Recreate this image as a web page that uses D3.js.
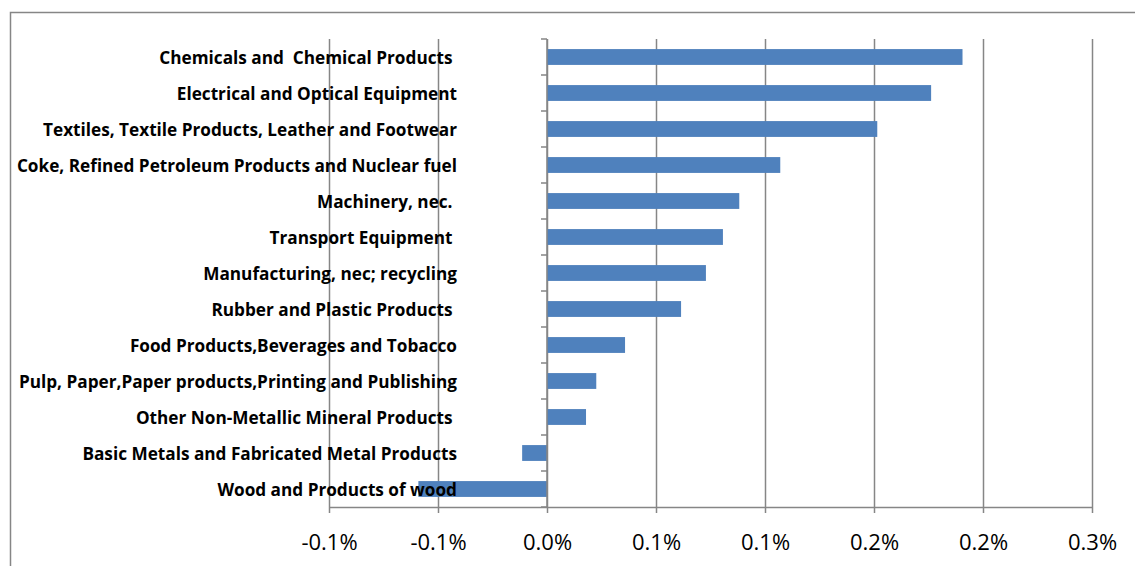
<!DOCTYPE html>
<html>
<head>
<meta charset="utf-8">
<script src="https://cdn.jsdelivr.net/npm/d3@7"></script>
<style>
  html, body { margin: 0; padding: 0; background: #fff; }
  svg { display: block; }
  .cat { font-family: "Open Sans", Lato, sans-serif; font-weight: bold; font-size: 17.2px; fill: #000; white-space: pre; }
  .tick-label { font-family: "Open Sans", Lato, sans-serif; font-size: 22px; fill: #000; }
</style>
</head>
<body>
<svg id="chart" width="1135" height="566"></svg>
<script>
// Industries, top to bottom
const categories = [
  "Chemicals and  Chemical Products ",
  "Electrical and Optical Equipment",
  "Textiles, Textile Products, Leather and Footwear",
  "Coke, Refined Petroleum Products and Nuclear fuel",
  "Machinery, nec. ",
  "Transport Equipment ",
  "Manufacturing, nec; recycling",
  "Rubber and Plastic Products ",
  "Food Products,Beverages and Tobacco",
  "Pulp, Paper,Paper products,Printing and Publishing",
  "Other Non-Metallic Mineral Products ",
  "Basic Metals and Fabricated Metal Products",
  "Wood and Products of wood"
];

// Change, in percent
const values = [0.1906, 0.1762, 0.1515, 0.1070, 0.0882, 0.0807, 0.0729, 0.0615, 0.0358, 0.0226, 0.0179, -0.0114, -0.0590];

// Axis ticks (percent) and their printed labels
const tickValues = [-0.10, -0.05, 0.00, 0.05, 0.10, 0.15, 0.20, 0.25];
const tickLabels = ["-0.1%", "-0.1%", "0.0%", "0.1%", "0.1%", "0.2%", "0.2%", "0.3%"];

const svg = d3.select("#chart");
const W = 1135, H = 566;
const plot = { left: 329, right: 1092, top: 39, bottom: 507 };
const gridColor = "#868686";
const barColor = "#4f81bd";

// Outer chart frame (top and left edges visible)
svg.append("path")
  .attr("d", `M10.5,${H} L10.5,12.5 L${W},12.5`)
  .attr("fill", "none")
  .attr("stroke", gridColor)
  .attr("stroke-width", 1.5);

const x = d3.scaleLinear().domain([-0.10, 0.25]).range([plot.left, plot.right]);
const y = d3.scaleBand().domain(categories).range([plot.top, plot.bottom]).padding(0);

// Vertical gridlines with downward tick marks
const xAxis = d3.axisBottom(x)
  .tickValues(tickValues)
  .tickSize(-(plot.bottom - plot.top))
  .tickSizeOuter(0)
  .tickFormat((d, i) => tickLabels[i]);

const gx = svg.append("g")
  .attr("transform", `translate(0,${plot.bottom})`)
  .call(xAxis);
gx.select(".domain").attr("stroke", gridColor).attr("stroke-width", 1.5);
gx.selectAll(".tick line")
  .attr("stroke", gridColor)
  .attr("stroke-width", 1.5)
  .attr("y2", -(plot.bottom - plot.top))
  .attr("y1", 6);
gx.selectAll(".tick text")
  .attr("class", "tick-label")
  .attr("y", 35)
  .attr("dy", "0.35em")
  .attr("font-family", null)
  .attr("font-size", null);

// Bars
const barH = y.bandwidth() * 0.44;
svg.append("g")
  .selectAll("rect")
  .data(values)
  .join("rect")
  .attr("x", d => x(Math.min(0, d)))
  .attr("width", d => Math.abs(x(d) - x(0)))
  .attr("y", (d, i) => y(categories[i]) + (y.bandwidth() - barH) / 2)
  .attr("height", barH)
  .attr("fill", barColor);

// Category axis on the zero line, ticks at band edges
const edges = categories.map(c => y(c)).concat([plot.bottom]);
const gy = svg.append("g");
gy.append("line")
  .attr("x1", x(0)).attr("x2", x(0))
  .attr("y1", plot.top).attr("y2", plot.bottom)
  .attr("stroke", gridColor).attr("stroke-width", 1.5);
gy.selectAll("line.edge")
  .data(edges)
  .join("line")
  .attr("class", "edge")
  .attr("x1", x(0) - 6).attr("x2", x(0))
  .attr("y1", d => d).attr("y2", d => d)
  .attr("stroke", gridColor).attr("stroke-width", 1.5);

// Category labels
svg.append("g")
  .selectAll("text")
  .data(categories)
  .join("text")
  .attr("class", "cat")
  .attr("x", 457)
  .attr("y", d => y(d) + y.bandwidth() / 2)
  .attr("dy", "0.38em")
  .attr("text-anchor", "end")
  .text(d => d);
</script>
</body>
</html>
